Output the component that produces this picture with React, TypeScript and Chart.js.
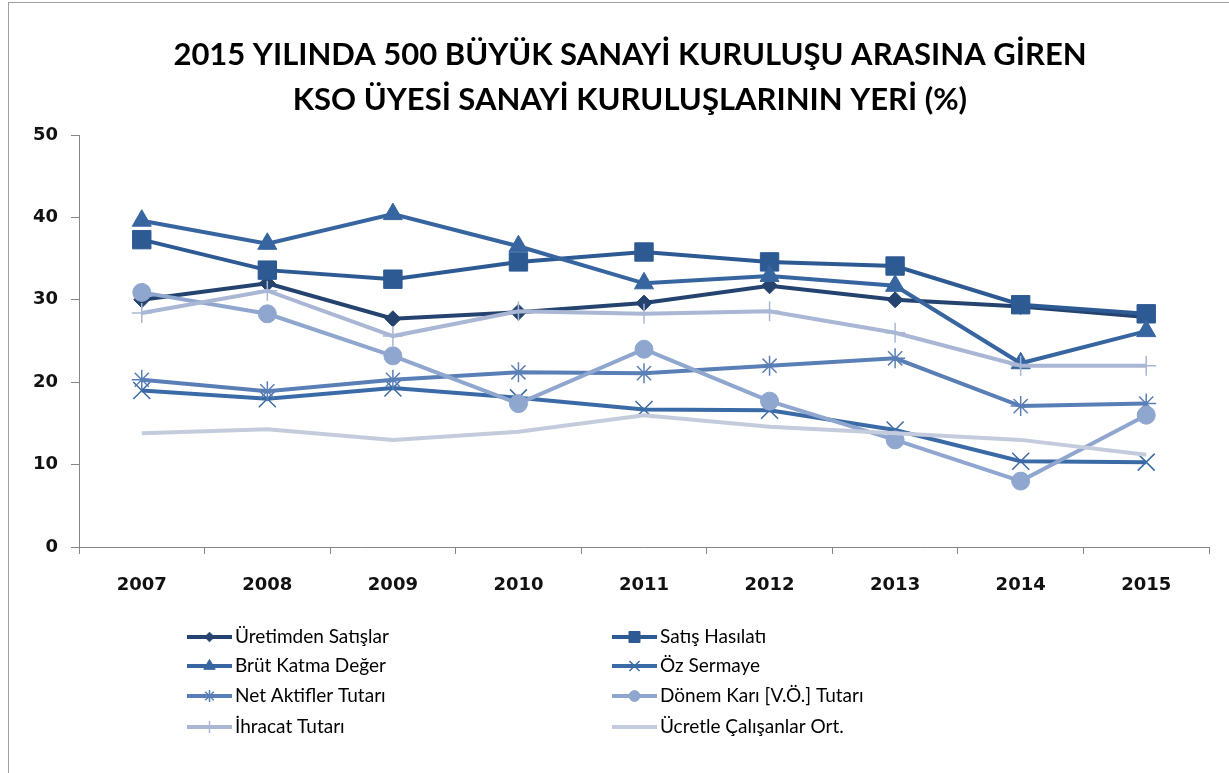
import React, { useEffect, useRef } from "react";
import { Chart, registerables } from "chart.js";
import { drawPoint } from "chart.js/helpers";

Chart.register(...registerables);

const years = ["2007", "2008", "2009", "2010", "2011", "2012", "2013", "2014", "2015"];
const titleLines = [
  "2015 YILINDA 500 BÜYÜK SANAYİ KURULUŞU ARASINA GİREN",
  "KSO ÜYESİ SANAYİ KURULUŞLARININ YERİ (%)",
];
const uretimdenSatislar = [30.0, 32.0, 27.7, 28.5, 29.6, 31.7, 30.0, 29.2, 27.9];
const satisHasilati = [37.3, 33.6, 32.5, 34.6, 35.8, 34.6, 34.1, 29.4, 28.3];
const brutKatmaDeger = [39.6, 36.8, 40.4, 36.5, 32.0, 32.9, 31.7, 22.3, 26.2];
const ozSermaye = [19.0, 18.0, 19.3, 18.1, 16.7, 16.6, 14.2, 10.4, 10.3];
const netAktifler = [20.3, 18.9, 20.3, 21.2, 21.1, 22.0, 22.9, 17.1, 17.4];
const donemKari = [30.9, 28.3, 23.2, 17.4, 24.0, 17.7, 13.0, 8.0, 16.0];
const ihracatTutari = [28.4, 31.1, 25.6, 28.6, 28.3, 28.6, 26.0, 22.0, 22.0];
const ucretleCalisanlar = [13.8, 14.3, 13.0, 14.0, 16.0, 14.6, 13.8, 13.0, 11.2];
const yTicks = [0, 10, 20, 30, 40, 50];

const seriesDefs = [
  { label: "Üretimden Satışlar", data: uretimdenSatislar, color: "#25436f", style: "rectRot", r: 8, bw: 1 },
  { label: "Satış Hasılatı", data: satisHasilati, color: "#2d5a93", style: "rect", r: 13, bw: 1 },
  { label: "Brüt Katma Değer", data: brutKatmaDeger, color: "#3765a0", style: "triangle", r: 11, bw: 1 },
  { label: "Öz Sermaye", data: ozSermaye, color: "#3b6ba6", style: "crossRot", r: 12, bw: 1.5 },
  { label: "Net Aktifler Tutarı", data: netAktifler, color: "#5a7fb7", style: "star", r: 10, bw: 1.5 },
  { label: "Dönem Karı [V.Ö.] Tutarı", data: donemKari, color: "#8fa6cf", style: "circle", r: 9, bw: 1 },
  { label: "İhracat Tutarı", data: ihracatTutari, color: "#a9b6d4", style: "cross", r: 10, bw: 1.5 },
  { label: "Ücretle Çalışanlar Ort.", data: ucretleCalisanlar, color: "#c4cbdd", style: false as any, r: 0, bw: 0 },
];

const titlePlugin = {
  id: "customTitle",
  afterDraw(chart: any) {
    const ctx = chart.ctx;
    ctx.save();
    ctx.fillStyle = "#000";
    ctx.font = "bold 31px Lato";
    ctx.textAlign = "center";
    ctx.textBaseline = "alphabetic";
    ctx.fillText(titleLines[0], 621, 62, 950);
    ctx.fillText(titleLines[1], 621, 107, 700);
    ctx.restore();
  },
};

const legendPlugin = {
  id: "customLegend",
  afterDraw(chart: any) {
    const ctx = chart.ctx;
    const rows = [634, 663, 693, 724];
    chart.data.datasets.forEach((ds: any, i: number) => {
      const col = i % 2;
      const row = Math.floor(i / 2);
      const x0 = col === 0 ? 178 : 603;
      const y = rows[row];
      ctx.save();
      ctx.strokeStyle = ds.borderColor;
      ctx.lineWidth = 4;
      ctx.beginPath();
      ctx.moveTo(x0, y);
      ctx.lineTo(x0 + 45, y);
      ctx.stroke();
      if (ds.pointStyle) {
        ctx.fillStyle = ds.borderColor;
        ctx.strokeStyle = ds.borderColor;
        ctx.lineWidth = ds.pointBorderWidth;
        drawPoint(ctx, { pointStyle: ds.pointStyle, radius: ds.pointRadius * 0.6, rotation: 0, borderWidth: ds.pointBorderWidth }, x0 + 22.5, y);
      }
      ctx.fillStyle = "#000";
      ctx.font = "19px Lato";
      ctx.textAlign = "left";
      ctx.textBaseline = "middle";
      ctx.fillText(ds.label, x0 + 48, y);
      ctx.restore();
    });
  },
};

export default function App() {
  const ref = useRef<HTMLCanvasElement>(null);
  useEffect(() => {
    if (!ref.current) return;
    const chart = new Chart(ref.current, {
      type: "line",
      data: {
        labels: years,
        datasets: seriesDefs.map((s, i) => ({
          label: s.label,
          data: s.data,
          borderColor: s.color,
          backgroundColor: s.color,
          borderWidth: 4,
          pointStyle: s.style,
          pointRadius: s.r,
          pointBorderWidth: s.bw,
          pointBackgroundColor: s.color,
          pointBorderColor: s.color,
          tension: 0,
          order: 10 - i,
        })),
      },
      options: {
        animation: false,
        responsive: false,
        devicePixelRatio: 1,
        layout: { padding: { left: 0, right: 20, top: 132, bottom: 176 } },
        plugins: { legend: { display: false }, tooltip: { enabled: false }, title: { display: false } },
        scales: {
          x: {
            type: "category",
            offset: true,
            afterFit: (s: any) => { s.height = 50; },
            grid: { display: true, drawOnChartArea: false, drawTicks: true, tickLength: 7, color: "#868686", offset: true },
            border: { display: true, color: "#868686", width: 1 },
            ticks: { color: "#111", font: { family: "DejaVu Sans", weight: "bold", size: 18 }, padding: 21, maxRotation: 0 },
          },
          y: {
            min: 0,
            max: 50,
            afterFit: (s: any) => { s.width = 70; },
            afterBuildTicks: (s: any) => { s.ticks = yTicks.map((v) => ({ value: v })); },
            grid: { display: true, drawOnChartArea: false, drawTicks: true, tickLength: 8, color: "#868686" },
            border: { display: true, color: "#868686", width: 1 },
            ticks: { color: "#111", font: { family: "DejaVu Sans", weight: "bold", size: 18 }, padding: 13 },
          },
        },
      },
      plugins: [titlePlugin, legendPlugin],
    } as any);
    return () => chart.destroy();
  }, []);
  return (
    <div
      style={{
        position: "absolute",
        left: 8,
        top: 2,
        width: 1221,
        height: 771,
        borderLeft: "1px solid #a0a0a0",
        borderTop: "1px solid #a0a0a0",
        background: "#fff",
      }}
    >
      <canvas ref={ref} width={1220} height={770} style={{ display: "block" }} />
    </div>
  );
}
